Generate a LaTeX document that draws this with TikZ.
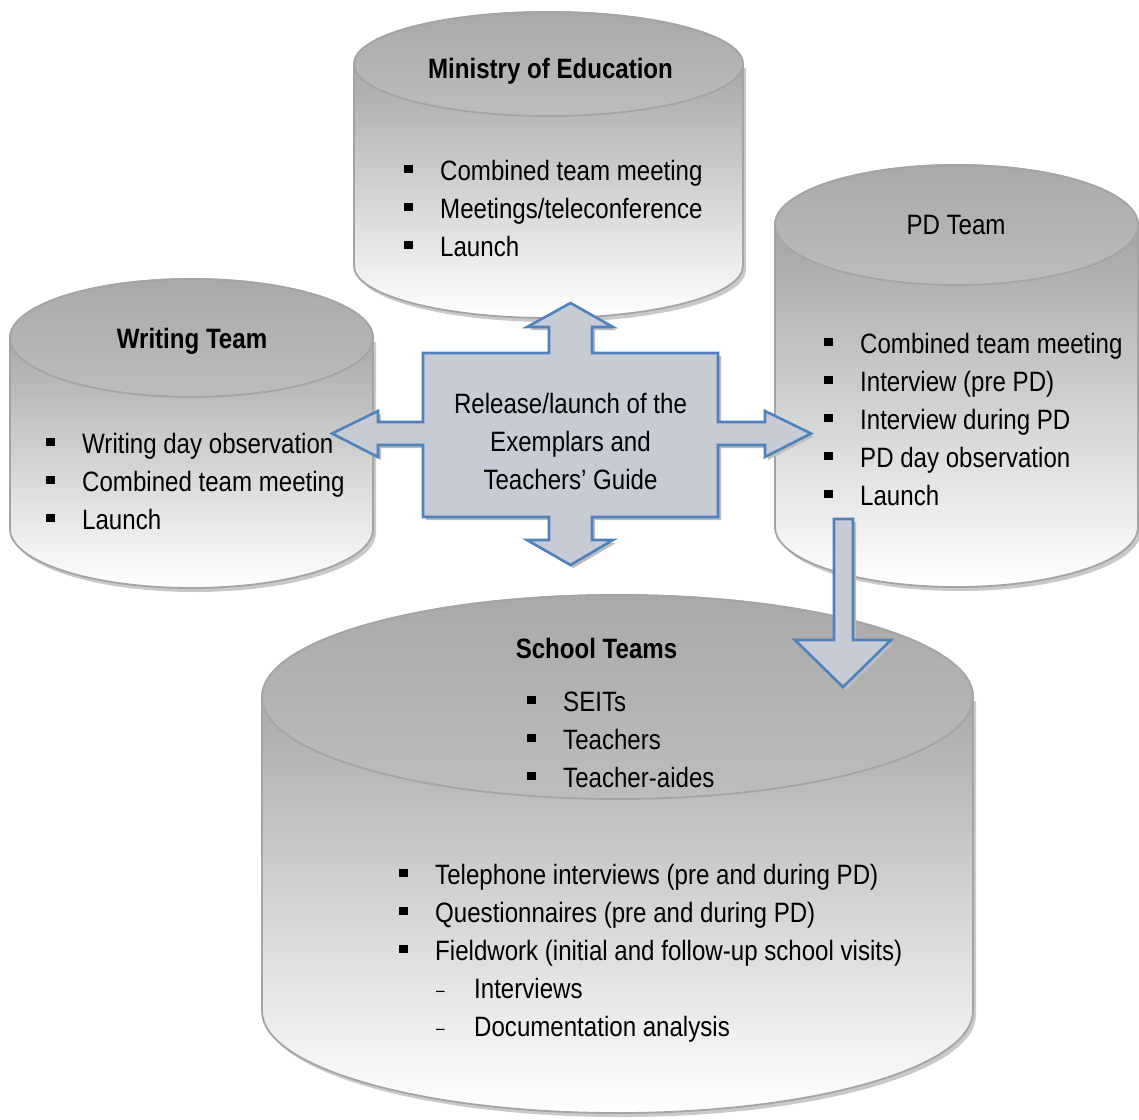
\documentclass[tikz,border=0pt]{standalone}
\usepackage{fontspec}
\setmainfont[FakeStretch=0.86]{Liberation Sans}

\definecolor{drumedge}{HTML}{A4A4A4}
\definecolor{drumshade}{HTML}{949494}
\definecolor{facetop}{HTML}{A9A9A9}
\definecolor{facebottom}{HTML}{BDBDBD}
\definecolor{drumshadow}{HTML}{C9C9C9}
\definecolor{arrowblue}{HTML}{4F81BD}
\definecolor{arrowfill}{HTML}{C7CBD3}
\definecolor{arrowshadow}{HTML}{BDBDBD}

% square bullet followed by the item text
\newcommand\sqb{\makebox[36pt][l]{\rule[7pt]{9pt}{8.5pt}}}
% dash for second-level items
\newcommand\subd{\hspace*{37pt}\makebox[38pt][l]{\raisebox{2pt}{\fontsize{18}{18}\selectfont –}}}

% a drum: centre x, top-face centre y, bottom centre y, x radius, y radius
\newcommand\drum[5]{%
  \fill[drumshadow]
    (#1-#4+3,#2+4) -- (#1-#4+3,#3+4)
    arc[start angle=180,end angle=0,x radius=#4,y radius=#5]
    -- (#1+#4+3,#2+4) -- cycle;
  \path[drumbody]
    (#1-#4,#2) -- (#1-#4,#3)
    arc[start angle=180,end angle=0,x radius=#4,y radius=#5]
    -- (#1+#4,#2)
    arc[start angle=0,end angle=-180,x radius=#4,y radius=#5] -- cycle;
  \path[drumface] (#1,#2) ellipse[x radius=#4,y radius=#5];
}

\tikzset{
  drumbody/.style={draw=drumedge, line width=1.8pt, top color=drumshade, bottom color=white},
  drumface/.style={draw=drumedge, line width=1.8pt, top color=facetop, bottom color=facebottom},
  blockarrow/.style={draw=arrowblue, line width=2.6pt, fill=arrowfill, line join=miter},
  arrowshade/.style={fill=arrowshadow},
  txt/.style={inner sep=0pt, font=\fontsize{28}{38}\selectfont},
  % multi-line nodes are placed by the baseline of their last line
  listtxt/.style={txt, anchor=base west, align=left},
  headtxt/.style={txt, anchor=base},
}

\begin{document}
\begin{tikzpicture}[x=1pt, y=-1pt]
\useasboundingbox (0,0) rectangle (1139,1119);

% the four drums
\drum{548.5}{64}{266}{194.5}{52}
\drum{191.5}{338}{529}{181.5}{59}
\drum{956.5}{225}{527}{181.5}{60}
\drum{617.5}{697}{1011}{355.5}{102}

% four-way arrow around the release
\fill[arrowshade, shift={(3,3)}]
  (423,353) -- (549,353) -- (549,327) -- (527,327) -- (570.5,303) -- (613,327)
  -- (592,327) -- (592,353) -- (718,353) -- (718,422) -- (765,422) -- (765,411)
  -- (811,433.5) -- (765,457) -- (765,445) -- (718,445) -- (718,517) -- (592,517)
  -- (592,540) -- (613,540) -- (570.5,565) -- (527,540) -- (549,540) -- (549,517)
  -- (423,517) -- (423,445) -- (378,445) -- (378,457) -- (332,433.5) -- (378,411)
  -- (378,422) -- (423,422) -- cycle;
\path[blockarrow]
  (423,353) -- (549,353) -- (549,327) -- (527,327) -- (570.5,303) -- (613,327)
  -- (592,327) -- (592,353) -- (718,353) -- (718,422) -- (765,422) -- (765,411)
  -- (811,433.5) -- (765,457) -- (765,445) -- (718,445) -- (718,517) -- (592,517)
  -- (592,540) -- (613,540) -- (570.5,565) -- (527,540) -- (549,540) -- (549,517)
  -- (423,517) -- (423,445) -- (378,445) -- (378,457) -- (332,433.5) -- (378,411)
  -- (378,422) -- (423,422) -- cycle;

% arrow from the PD team down to the school teams
\fill[arrowshade, shift={(3,3)}]
  (834,519) -- (853,519) -- (853,640) -- (891,640) -- (843,687) -- (795,640) -- (834,640) -- cycle;
\path[blockarrow]
  (834,519) -- (853,519) -- (853,640) -- (891,640) -- (843,687) -- (795,640) -- (834,640) -- cycle;

% Ministry of Education
\node[headtxt, font=\fontsize{28}{38}\selectfont\bfseries] (moeHead) at (550.5,78) {Ministry of Education};
\node[listtxt] (moeList) at (404,256)
  {\sqb Combined team meeting\\ \sqb Meetings/teleconference\\ \sqb Launch};

% Writing Team
\node[headtxt, font=\fontsize{28}{38}\selectfont\bfseries] (wtHead) at (192,348) {Writing Team};
\node[listtxt] (wtList) at (46,529)
  {\sqb Writing day observation\\ \sqb Combined team meeting\\ \sqb Launch};

% PD Team
\node[headtxt] (pdHead) at (956,234) {PD Team};
\node[listtxt] (pdList) at (824,505)
  {\sqb Combined team meeting\\ \sqb Interview (pre PD)\\ \sqb Interview during PD\\
   \sqb PD day observation\\ \sqb Launch};

% School Teams
\node[headtxt, font=\fontsize{28}{38}\selectfont\bfseries] (stHead) at (596.5,658) {School Teams};
\node[listtxt] (stMembers) at (527,787)
  {\sqb SEITs\\ \sqb Teachers\\ \sqb Teacher-aides};
\node[listtxt] (stMethods) at (399,1036)
  {\sqb Telephone interviews (pre and during PD)\\
   \sqb Questionnaires (pre and during PD)\\
   \sqb Fieldwork (initial and follow-up school visits)\\
   \subd Interviews\\
   \subd Documentation analysis};

% release in the middle
\node[headtxt, align=center] (release) at (570.5,489)
  {Release/launch of the\\ Exemplars and\\ Teachers’ Guide};
\end{tikzpicture}
\end{document}
